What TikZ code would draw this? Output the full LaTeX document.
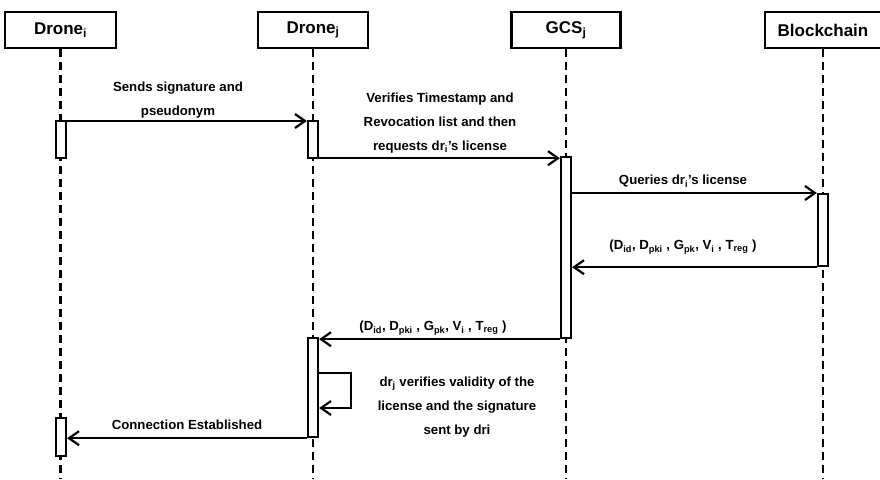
\documentclass[tikz,border=0pt]{standalone}
\usepackage{fontspec}
\setmainfont{Liberation Sans}
\usetikzlibrary{arrows.meta,positioning}
\tikzset{
%Define standard arrow tip
>={Straight Barb[length=10pt,width=14pt]},
%Styles for the parts of the sequence chart
actor/.style={draw, line width=2.2pt, minimum height=36pt, inner sep=0pt,
  font=\bfseries\fontsize{17}{20}\selectfont},
lifeline/.style={line width=2.2pt, dash pattern=on 8pt off 5pt},
activation/.style={draw, line width=2.2pt, fill=white, minimum width=10pt, inner sep=0pt, anchor=north},
message/.style={->, line width=2.2pt},
msglabel/.style={align=center, font=\bfseries\fontsize{13.2}{24}\selectfont},
}
\newcommand\lowi{\textsubscript{i}}
\newcommand\lowj{\textsubscript{j}}

\begin{document}
\begin{tikzpicture}[x=1pt, y=-1pt]
    \useasboundingbox (0,0) rectangle (880,479);
    %Actors on top
    \node[actor, minimum width=111pt] (droneI) at (60.5,30) {Drone\lowi};
    \node[actor, minimum width=110pt] (droneJ) at (313,30) {Drone\lowj};
    \node[actor, minimum width=109pt] (gcs) at (566,30) {GCS\lowj};
    \node[actor, minimum width=116pt] (chain) at (823,30) {Blockchain};
    %Lifelines down to the bottom
    \foreach \who in {droneI, droneJ, gcs, chain}
      \draw[lifeline] (\who.south) -- (\who.south |- 0,479);

    %Activation bars
    \node[activation, minimum height=37pt] (actI1) at (61,120) {};
    \node[activation, minimum height=37pt] (actJ1) at (313,120) {};
    \node[activation, minimum height=181pt] (actG) at (566,156) {};
    \node[activation, minimum height=72pt] (actB) at (823,193) {};
    \node[activation, minimum height=99pt] (actJ2) at (313,337) {};
    \node[activation, minimum height=38pt] (actI2) at (61,417) {};

    %Messages
    \draw[message] ([yshift=-1pt]actI1.north east) -- ([yshift=-1pt]actI1.north east -| actJ1.west);
    \node[msglabel] (sends) at (178,100) {Sends signature and\\pseudonym};

    \draw[message] ([yshift=1pt]actJ1.south east) -- ([yshift=1pt]actJ1.south east -| actG.west);
    \node[msglabel] (verifies) at (440,123) {Verifies Timestamp and\\Revocation list and then\\requests dr\lowi's license};

    \draw[message] (actG.east |- actB.north) -- (actB.north west);
    \node[msglabel] (queries) at (683,181) {Queries dr\lowi's license};

    \draw[message] (actB.south west) -- (actG.east |- actB.south);
    \node[msglabel] (reply1) at (683,247) {(D\textsubscript{id}, D\textsubscript{pki} , G\textsubscript{pk}, V\lowi\ , T\textsubscript{reg} )};

    \draw[message] (actG.south west) -- (actG.south west -| actJ2.east);
    \node[msglabel] (reply2) at (433,328) {(D\textsubscript{id}, D\textsubscript{pki} , G\textsubscript{pk}, V\lowi\ , T\textsubscript{reg} )};

    %Self check of drone j
    \coordinate (loopA) at (actJ2.east |- 0,373);
    \coordinate (loopB) at (actJ2.east |- 0,408);
    \draw[message] (loopA) -- ++(32,0) |- (loopB);
    \node[msglabel] (check) at (457,407) {dr\lowj\ verifies validity of the\\license and the signature\\sent by dri};

    \draw[message] (actJ2.south west) -- (actJ2.south west -| actI2.east);
    \node[msglabel] (established) at (187,425) {Connection Established};
\end{tikzpicture}
\end{document}
